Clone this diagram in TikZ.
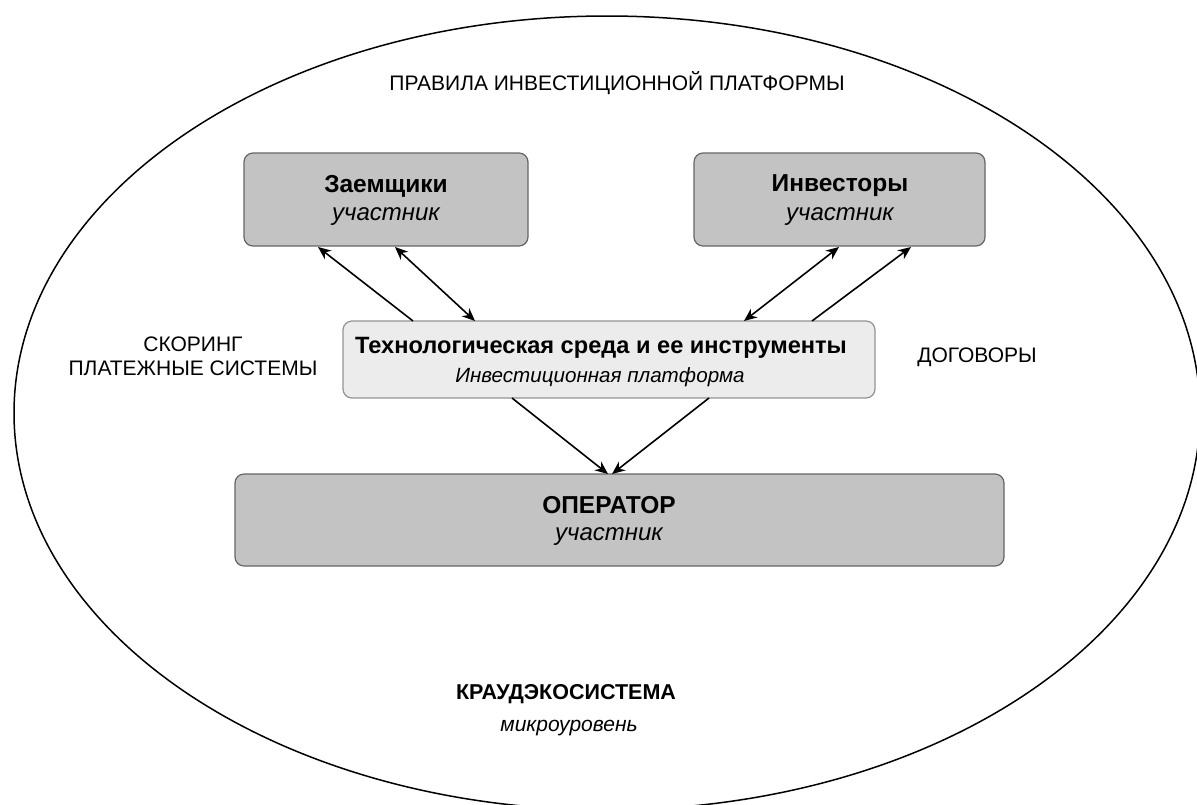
\documentclass[tikz,border=0pt]{standalone}
\usepackage{fontspec}
\setmainfont{Liberation Sans}
\usetikzlibrary{arrows.meta}
\definecolor{boxdark}{HTML}{C3C3C3}
\definecolor{boxlight}{HTML}{ECECEC}
\definecolor{edgegray}{HTML}{666666}
\tikzset{
  part/.style={draw=edgegray, line width=1.2pt, fill=boxdark, rounded corners=9pt},
  tech/.style={draw=edgegray!70, line width=1.2pt, fill=boxlight, rounded corners=9pt},
  conn/.style={line width=1.6pt, -{Stealth[length=13pt,width=11pt]}},
  both/.style={line width=1.6pt, {Stealth[length=13pt,width=11pt]}-{Stealth[length=13pt,width=11pt]}},
  lbl/.style={font=\fontsize{21}{24}\selectfont, align=center, inner sep=0pt},
  ttl/.style={font=\fontsize{24.5}{28}\selectfont\bfseries, inner sep=0pt},
  sub/.style={font=\fontsize{24}{28}\selectfont\itshape, inner sep=0pt},
  ttlm/.style={font=\fontsize{23.6}{28}\selectfont\bfseries, inner sep=0pt},
  subm/.style={font=\fontsize{20.6}{24}\selectfont\itshape, inner sep=0pt},
}
\begin{document}
\begin{tikzpicture}[x=1pt,y=-1pt]
\useasboundingbox (0,0) rectangle (1197,804);
\clip (0,0) rectangle (1197,804);
\fill[white] (0,0) rectangle (1197,804);
% ecosystem ellipse
\draw[line width=1.5pt] (607,413) ellipse [x radius=593, y radius=397];
\node[lbl] (rules) at (617,83) {ПРАВИЛА ИНВЕСТИЦИОННОЙ ПЛАТФОРМЫ};
% boxes
\draw[part] (244,153) rectangle (528,246);
\node[ttl] (zt) at (386,186) {Заемщики};
\node[sub] (zs) at (386,217) {участник};
\draw[part] (694,153) rectangle (985,246);
\node[ttl] (it) at (840,186) {Инвесторы};
\node[sub] (is) at (840,217) {участник};
\draw[tech] (343,321) rectangle (875,398);
\node[ttlm] (tt) at (601,348) {Технологическая среда и ее инструменты};
\node[subm] (ts) at (600,377) {Инвестиционная платформа};
\draw[part] (235,474) rectangle (1004,566);
\node[ttl] (ot) at (609,505) {ОПЕРАТОР};
\node[sub] (os) at (609,537) {участник};
% side labels
\node[lbl] (sk) at (193,356) {СКОРИНГ\\ПЛАТЕЖНЫЕ СИСТЕМЫ};
\node[lbl] (dg) at (977,357) {ДОГОВОРЫ};
\node[font=\fontsize{21.5}{25}\selectfont\bfseries, inner sep=0pt] (kr) at (566,694) {КРАУДЭКОСИСТЕМА};
\node[font=\fontsize{21}{25}\selectfont\itshape, inner sep=0pt] (mk) at (569,728) {микроуровень};
% connector endpoints
\coordinate (a1s) at (413,321); \coordinate (a1e) at (318,247);
\coordinate (a2s) at (395,247); \coordinate (a2e) at (475,321);
\coordinate (a3s) at (839,247); \coordinate (a3e) at (744,321);
\coordinate (a4s) at (812,321); \coordinate (a4e) at (911,247);
\coordinate (d1s) at (512,398); \coordinate (d1e) at (608,474);
\coordinate (d2s) at (709,398); \coordinate (d2e) at (612,474);
\draw[conn] (a1s) -- (a1e);
\draw[both] (a2s) -- (a2e);
\draw[both] (a3s) -- (a3e);
\draw[conn] (a4s) -- (a4e);
\draw[conn] (d1s) -- (d1e);
\draw[conn] (d2s) -- (d2e);
\end{tikzpicture}
\end{document}
